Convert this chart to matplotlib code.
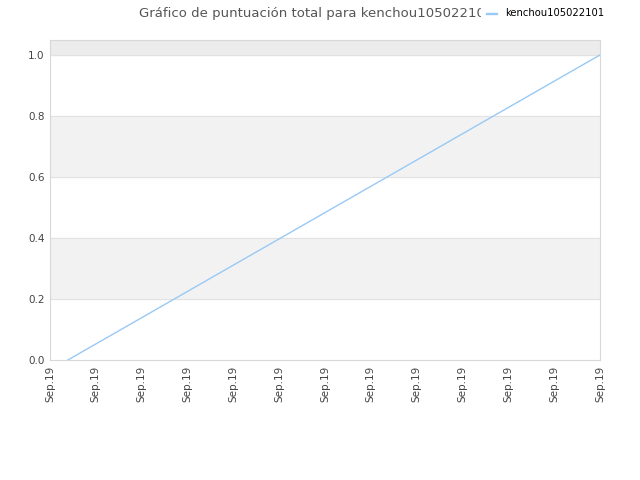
import numpy as np
import matplotlib.pyplot as plt

# Data
x_vals = [0.39, 12.0]
y_vals = [0.0, 1.0]
tick_pos = list(range(13))
tick_labels = ["Sep.19"] * 13
band_edges = [(0.2, 0.4), (0.6, 0.8)]
series_name = "kenchou105022101"
title = "Gráfico de puntuación total para kenchou105022101"

fig = plt.figure(figsize=(6.4, 4.8), dpi=100)
ax = fig.add_axes([50 / 640, 120 / 480, 550 / 640, 320 / 480])

for lo, hi in band_edges:
    ax.axhspan(lo, hi, color="#f2f2f2", zorder=0)
ax.axhspan(1.0, 1.049, color="#ececec", zorder=0)
for yv in [0.2, 0.4, 0.6, 0.8, 1.0]:
    ax.axhline(yv, color="#e2e2e2", lw=0.8, zorder=1)

ax.plot(x_vals, y_vals, color="#99c9f5", lw=1, zorder=3)

ax.set_xlim(0, 12)
ax.set_ylim(0, 1.049)
ax.set_xticks(tick_pos)
ax.set_xticklabels(tick_labels, rotation=90, fontsize=7.5, color="#444444")
ax.set_yticks([0, 0.2, 0.4, 0.6, 0.8, 1.0])
ax.set_yticklabels(["0.0", "0.2", "0.4", "0.6", "0.8", "1.0"], fontsize=7.5, color="#444444")
ax.tick_params(length=0, pad=4)
for s in ax.spines.values():
    s.set_color("#d8d8d8")
    s.set_linewidth(0.8)

fig.text(139 / 640, 1 - 13 / 480, title, ha="left", va="center", fontsize=9.5, color="#555555")
# legend box covering the end of the title, as in the reference
fig.patches.append(plt.Rectangle((481 / 640, 1 - 22 / 480), 159 / 640, 18 / 480,
                                 transform=fig.transFigure, color="white", zorder=4))
fig.patches.append(plt.Rectangle((486 / 640, 1 - 14 / 480), 11 / 640, 1.2 / 480,
                                 transform=fig.transFigure, color="#99c9f5", zorder=5))
fig.text(505 / 640, 1 - 13 / 480, series_name, ha="left", va="center", fontsize=7.2,
         color="black", zorder=6)

fig.savefig("out.png", dpi=100)
